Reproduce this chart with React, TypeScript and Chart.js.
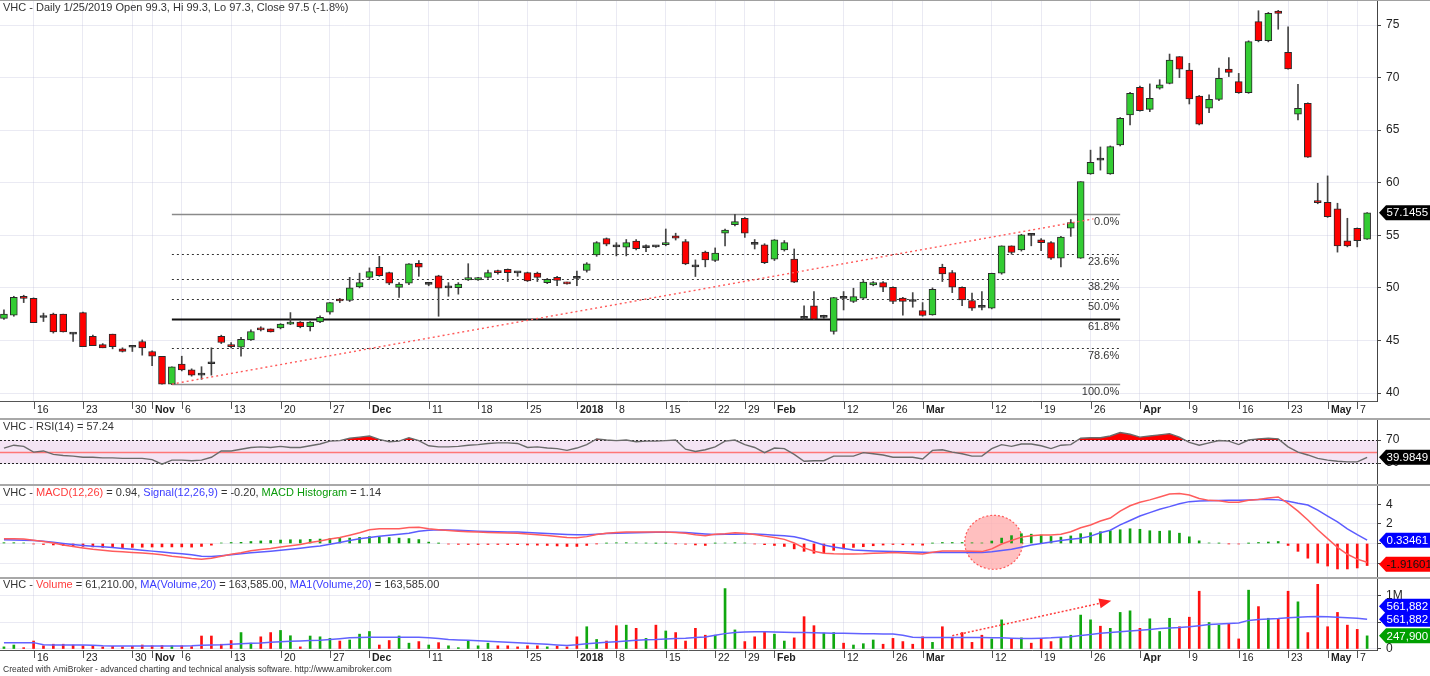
import React, { useEffect, useRef } from 'react';
import { Chart, registerables } from 'chart.js';

Chart.register(...registerables);

const FONT = '"Liberation Sans", Arial, Helvetica, sans-serif';
const W = 1430;
const AXIS_W = 53;
const GRID = 'rgba(185,185,215,0.30)';
const TXT = '#333333';
const UP = '#33cc33';
const DOWN = '#ff0000';

/* ---------------- data (trading-day index 0 = 11 Oct 2017 ... 138 = 8 May 2018) ---------------- */
const tickIndex = [3, 8, 13, 15, 18, 23, 28, 33, 37, 43, 48, 53, 58, 62, 67, 72, 75, 78, 85, 90, 93, 100, 105, 110, 115, 120, 125, 130, 134, 137];
const tickLabels = ['16', '23', '30', 'Nov', '6', '13', '20', '27', 'Dec', '11', '18', '25', '2018', '8', '15', '22', '29', 'Feb', '12', '26', 'Mar', '12', '19', '26', 'Apr', '9', '16', '23', 'May', '7'];

const openP = [47.1, 47.4, 49.2, 49.0, 47.22, 47.5, 47.5, 45.65, 47.65, 45.4,
  44.6, 45.6, 44.2, 44.4, 44.9, 43.95, 43.5, 40.85, 42.75, 42.2,
  41.75, 42.82, 45.4, 44.6, 44.35, 45.05, 46.2, 46.1, 46.2, 46.55,
  46.75, 46.3, 46.75, 47.7, 48.85, 48.8, 50.1, 51.0, 51.96, 51.45,
  50.05, 50.45, 52.34, 50.33, 51.14, 50.0, 50.03, 50.76, 50.76, 51.0,
  51.6, 51.77, 51.47, 51.45, 51.4, 50.5, 51.0, 50.5, 50.95, 51.65,
  53.13, 54.7, 53.95, 53.86, 54.45, 53.83, 53.95, 54.1, 54.94, 54.4,
  52.05, 53.4, 52.6, 55.2, 56.0, 56.62, 54.17, 54.1, 52.73, 53.6,
  52.73, 47.15, 48.29, 47.2, 45.85, 49.05, 48.7, 49.02, 50.29, 50.5,
  50.06, 49.02, 48.75, 47.85, 47.43, 51.96, 51.46, 50.06, 48.8, 48.2,
  48.07, 51.39, 53.99, 53.61, 55.04, 54.56, 54.31, 52.82, 55.67, 52.82,
  60.84, 62.2, 60.84, 63.59, 66.45, 69.07, 66.98, 69.0, 69.45, 71.99,
  70.72, 68.25, 67.08, 67.93, 70.82, 69.61, 68.57, 75.32, 73.51, 76.33,
  72.4, 66.51, 67.55, 58.27, 58.14, 57.51, 54.47, 55.67, 54.63];
const highP = [47.9, 49.2, 49.3, 49.05, 47.6, 47.6, 47.5, 45.7, 47.7, 45.5,
  44.7, 45.6, 44.3, 44.5, 45.05, 44.0, 43.5, 42.5, 43.5, 42.3,
  42.5, 44.3, 45.5, 44.8, 45.3, 46.0, 46.3, 46.1, 46.6, 47.65,
  46.8, 46.8, 47.35, 48.6, 49.0, 51.0, 51.4, 51.9, 53.0, 51.5,
  50.5, 52.3, 52.6, 50.5, 51.2, 50.5, 50.5, 52.3, 51.0, 51.7,
  51.7, 51.8, 51.5, 51.5, 51.5, 50.9, 51.1, 50.55, 51.6, 52.4,
  54.4, 54.75, 54.3, 54.6, 54.6, 54.1, 54.0, 55.6, 55.2, 54.6,
  52.66, 53.5, 53.8, 55.6, 57.0, 56.7, 54.6, 54.2, 54.6, 54.5,
  53.7, 48.3, 49.65, 47.4, 49.1, 49.65, 49.97, 50.7, 50.6, 50.6,
  50.1, 49.1, 49.55, 48.6, 50.0, 52.25, 51.65, 50.1, 49.5, 49.65,
  51.4, 54.0, 54.0, 55.1, 55.1, 54.7, 54.4, 54.9, 56.5, 60.1,
  63.1, 63.4, 63.5, 66.2, 68.6, 69.2, 69.4, 69.8, 72.24, 72.0,
  71.36, 68.3, 68.35, 70.9, 71.9, 70.4, 73.5, 76.36, 76.2, 76.4,
  74.84, 69.36, 67.6, 59.95, 60.65, 58.05, 56.62, 55.7, 57.15];
const lowP = [47.0, 47.3, 48.6, 46.7, 46.8, 45.7, 45.8, 44.9, 44.4, 44.5,
  44.3, 44.2, 43.9, 43.95, 43.6, 42.6, 40.85, 40.8, 42.1, 41.6,
  41.3, 41.7, 44.7, 44.3, 43.5, 45.0, 45.9, 45.8, 46.1, 46.5,
  46.2, 45.9, 46.7, 47.5, 48.6, 48.7, 50.0, 50.8, 51.1, 50.3,
  49.1, 50.3, 51.1, 50.2, 47.3, 49.2, 49.4, 50.7, 50.7, 50.9,
  51.3, 50.6, 51.1, 50.6, 50.6, 50.4, 50.2, 50.35, 50.2, 51.5,
  53.0, 54.0, 53.04, 53.04, 53.6, 53.45, 53.85, 54.0, 54.55, 52.2,
  51.08, 52.0, 52.5, 54.0, 55.9, 54.8, 53.7, 52.3, 52.6, 53.5,
  50.5, 47.0, 47.0, 47.1, 45.6, 47.9, 48.6, 48.9, 50.2, 49.65,
  48.5, 47.4, 48.16, 47.3, 47.4, 50.6, 49.55, 48.3, 47.85, 47.9,
  48.0, 51.3, 53.2, 53.5, 54.0, 53.55, 52.7, 52.0, 54.9, 52.8,
  60.8, 61.2, 60.8, 63.5, 65.5, 66.8, 66.76, 68.9, 69.4, 70.0,
  67.49, 65.5, 66.67, 67.8, 70.1, 68.5, 68.5, 73.4, 73.4, 74.6,
  70.8, 65.97, 62.4, 58.0, 56.7, 53.4, 53.9, 53.9, 54.6];
const closeP = [47.5, 49.1, 49.0, 46.7, 47.18, 45.8, 45.8, 45.6, 44.4, 44.5,
  44.3, 44.4, 43.95, 44.35, 44.3, 43.5, 40.85, 42.5, 42.2, 41.7,
  41.7, 42.78, 44.8, 44.4, 45.1, 45.85, 46.0, 45.8, 46.55, 46.75,
  46.3, 46.75, 47.2, 48.6, 48.75, 50.0, 50.5, 51.55, 51.17, 50.45,
  50.35, 52.28, 51.96, 50.37, 49.97, 50.05, 50.35, 50.98, 50.98, 51.45,
  51.45, 51.45, 51.43, 50.66, 51.0, 50.82, 50.7, 50.38, 50.9, 52.28,
  54.3, 54.15, 53.9, 54.3, 53.72, 53.87, 53.9, 54.3, 54.72, 52.28,
  52.0, 52.66, 53.3, 55.5, 56.3, 55.2, 54.13, 52.4, 54.56, 54.3,
  50.54, 47.1, 47.02, 47.3, 49.08, 49.0, 49.17, 50.54, 50.5, 50.06,
  48.7, 48.7, 48.7, 47.37, 49.87, 51.33, 50.06, 48.86, 48.07, 48.15,
  51.39, 53.99, 53.36, 55.04, 55.0, 54.31, 52.82, 54.82, 56.21, 60.1,
  61.94, 62.15, 63.43, 66.13, 68.5, 66.86, 68.03, 69.3, 71.67, 70.79,
  67.97, 65.56, 67.93, 69.93, 70.5, 68.57, 73.42, 73.51, 76.11, 76.11,
  70.82, 67.08, 62.42, 58.11, 56.78, 54.0, 54.0, 54.5, 57.1455];

const volume = [40000, 75000, 25000, 150000, 60000, 90000, 90000, 75000, 60000, 50000,
  40000, 50000, 40000, 50000, 75000, 60000, 65000, 60000, 60000, 45000,
  245000, 245000, 90000, 160000, 310000, 110000, 230000, 310000, 350000, 250000,
  40000, 245000, 230000, 200000, 150000, 170000, 280000, 330000, 75000, 160000,
  245000, 110000, 140000, 75000, 120000, 60000, 25000, 160000, 60000, 110000,
  60000, 60000, 40000, 60000, 60000, 40000, 55000, 40000, 230000, 420000,
  180000, 150000, 440000, 450000, 390000, 200000, 450000, 340000, 310000, 150000,
  390000, 260000, 260000, 1140000, 360000, 140000, 230000, 330000, 280000, 150000,
  210000, 610000, 440000, 300000, 310000, 110000, 75000, 100000, 170000, 90000,
  200000, 140000, 90000, 230000, 125000, 420000, 200000, 310000, 125000, 260000,
  190000, 550000, 200000, 210000, 110000, 200000, 140000, 200000, 260000, 640000,
  550000, 430000, 390000, 690000, 720000, 390000, 570000, 330000, 580000, 420000,
  600000, 1090000, 500000, 450000, 470000, 190000, 1110000, 800000, 580000, 570000,
  1090000, 890000, 310000, 1220000, 420000, 690000, 450000, 370000, 247900];
const volMA = [120000, 120000, 120000, 120000, 80000, 75000, 75000, 75000, 75000, 70000,
  60000, 58000, 57000, 57000, 57000, 57000, 57000, 57000, 58000, 60000,
  70000, 75000, 80000, 90000, 100000, 107000, 115000, 128000, 138000, 145000,
  152000, 160000, 164000, 180000, 195000, 210000, 218000, 220000, 220000, 220000,
  220000, 220000, 220000, 210000, 200000, 180000, 172000, 163000, 155000, 147000,
  138000, 128000, 118000, 108000, 100000, 88000, 75000, 65000, 80000, 100000,
  115000, 128000, 138000, 150000, 165000, 175000, 180000, 190000, 200000, 205000,
  215000, 225000, 260000, 290000, 310000, 320000, 327000, 325000, 320000, 315000,
  312000, 310000, 305000, 300000, 298000, 296000, 293000, 290000, 287000, 285000,
  283000, 260000, 220000, 218000, 216000, 215000, 215000, 215000, 215000, 215000,
  214000, 210000, 205000, 200000, 200000, 205000, 210000, 220000, 233000, 255000,
  275000, 296000, 310000, 325000, 340000, 355000, 370000, 385000, 395000, 405000,
  420000, 440000, 460000, 470000, 480000, 490000, 540000, 555000, 565000, 575000,
  590000, 600000, 610000, 615000, 610000, 600000, 590000, 580000, 561882];

const rsi = [56, 61, 59, 49, 51, 45, 43, 42, 40, 40,
  39, 39, 38, 38, 38, 36, 28, 35, 35, 34,
  35, 40, 51, 51, 54, 57, 58, 57, 59, 57,
  57, 60, 63, 68, 69, 73, 75, 77, 71, 67,
  68, 74, 69, 60, 58, 58, 59, 61, 62, 64,
  65, 65, 64, 57, 58, 56, 55, 52, 56, 62,
  72, 70, 69, 70, 67, 68, 68, 69, 70, 54,
  50, 53, 58, 68, 70, 62, 57, 48, 56, 55,
  45, 33, 34, 34, 42, 42, 42, 48, 46, 44,
  40, 40, 40, 37, 52, 53, 49, 46, 42, 42,
  55, 62, 59, 63, 63, 60, 55, 61, 62, 73,
  74, 74, 77, 83, 80, 75, 77, 79, 81, 75,
  66, 61, 65, 69, 68, 62, 70, 72, 73, 72,
  58, 49, 44, 38, 35, 33, 32, 32, 39.9849];

const macd = [0.48, 0.48, 0.45, 0.33, 0.2, 0.05, -0.15, -0.3, -0.45, -0.6,
  -0.7, -0.78, -0.85, -0.92, -0.98, -1.05, -1.15, -1.3, -1.4, -1.52,
  -1.6, -1.5, -1.3, -1.1, -0.95, -0.75, -0.62, -0.5, -0.35, -0.22,
  -0.1, 0.1, 0.25, 0.45, 0.62, 0.85, 1.1, 1.4, 1.5, 1.5,
  1.5, 1.62, 1.65, 1.5, 1.4, 1.32, 1.25, 1.2, 1.16, 1.13,
  1.1, 1.07, 1.04, 0.97, 0.9, 0.82, 0.72, 0.62, 0.58, 0.7,
  0.92, 1.05, 1.12, 1.16, 1.16, 1.16, 1.16, 1.16, 1.12, 1.05,
  0.9, 0.78, 0.95, 1.0, 1.1, 1.05, 0.92, 0.75, 0.6, 0.42,
  0.05, -0.45, -0.8, -1.0, -1.05, -1.07, -1.07, -1.05, -1.0, -0.96,
  -0.93, -0.98, -1.03, -1.07, -0.9, -0.77, -0.77, -0.77, -0.8, -0.83,
  -0.55, -0.05, 0.3, 0.65, 0.8, 0.87, 0.87, 0.95, 1.2, 1.6,
  1.89, 2.3, 2.6, 3.3, 3.85, 4.2, 4.45, 4.75, 5.05, 5.1,
  4.95, 4.6, 4.4, 4.35, 4.2, 4.2, 4.4, 4.5, 4.65, 4.75,
  4.1, 3.3, 2.4, 1.4, 0.5, -0.4, -1.1, -1.6, -1.91601];
const signal = [0.38, 0.36, 0.33, 0.3, 0.22, 0.12, 0.0, -0.1, -0.2, -0.28,
  -0.33, -0.42, -0.52, -0.6, -0.68, -0.78, -0.87, -0.96, -1.05, -1.15,
  -1.3, -1.33, -1.25, -1.15, -1.05, -0.95, -0.88, -0.8, -0.7, -0.6,
  -0.48, -0.35, -0.25, -0.08, 0.1, 0.3, 0.48, 0.62, 0.75, 0.85,
  0.95, 1.05, 1.25, 1.36, 1.39, 1.38, 1.34, 1.3, 1.26, 1.23,
  1.2, 1.18, 1.16, 1.12, 1.07, 1.02, 0.97, 0.92, 0.88, 0.9,
  0.95, 1.02, 1.05, 1.08, 1.1, 1.12, 1.14, 1.15, 1.15, 1.12,
  1.05, 0.98, 0.92, 0.93, 0.95, 0.97, 0.97, 0.92, 0.85, 0.78,
  0.68, 0.45, 0.15, -0.15, -0.35, -0.52, -0.66, -0.72, -0.77, -0.8,
  -0.83, -0.85, -0.88, -0.9, -0.93, -0.93, -0.93, -0.93, -0.93, -0.93,
  -0.85, -0.72, -0.59, -0.38, -0.15, 0.0, 0.15, 0.3, 0.43, 0.53,
  0.75, 1.1, 1.35, 1.9, 2.35, 2.8, 3.15, 3.5, 3.76, 4.05,
  4.27, 4.33, 4.37, 4.38, 4.4, 4.42, 4.45, 4.5, 4.5, 4.45,
  4.3, 4.1, 3.93, 3.4, 2.8, 2.2, 1.5, 0.9, 0.33461];
const hist = [0.08, 0.08, 0.05, -0.05, -0.1, -0.15, -0.2, -0.25, -0.3, -0.35,
  -0.4, -0.42, -0.42, -0.4, -0.38, -0.36, -0.35, -0.35, -0.35, -0.37,
  -0.3, -0.17, 0.05, 0.1, 0.12, 0.2, 0.26, 0.3, 0.35, 0.38,
  0.38, 0.42, 0.45, 0.5, 0.52, 0.55, 0.62, 0.7, 0.68, 0.6,
  0.55, 0.5, 0.4, 0.14, 0.02, -0.06, -0.09, -0.1, -0.1, -0.1,
  -0.1, -0.11, -0.12, -0.15, -0.17, -0.2, -0.25, -0.3, -0.3, -0.2,
  -0.03, 0.03, 0.07, 0.08, 0.06, 0.04, 0.02, 0.02, -0.03, -0.07,
  -0.15, -0.2, 0.03, 0.05, 0.08, 0.05, -0.05, -0.12, -0.2, -0.3,
  -0.55, -0.8, -1.0, -0.95, -0.7, -0.55, -0.4, -0.33, -0.23, -0.16,
  -0.1, -0.13, -0.15, -0.17, 0.03, 0.1, 0.1, 0.1, 0.07, 0.05,
  0.25, 0.55, 0.8, 1.0, 0.95, 0.87, 0.72, 0.65, 0.77, 1.0,
  1.1, 1.2, 1.3, 1.4, 1.5, 1.45, 1.3, 1.25, 1.3, 1.05,
  0.68, 0.27, 0.05, 0.03, -0.03, -0.05, 0.02, 0.1, 0.15, 0.2,
  -0.2, -0.8, -1.5, -2.0, -2.3, -2.6, -2.6, -2.5, -2.25];

const priceTicks = [40, 45, 50, 55, 60, 65, 70, 75];
const rsiTicks = [30, 70];
const rsiLevels = { upper: 70, mid: 50, lower: 30 };
const macdTicks = [-2, 0, 2, 4];
const volTicks = [0, 500000, 1000000];
const fibLevels = [0, 23.6, 38.2, 50, 61.8, 78.6, 100];
const fibLow = { idx: 17, price: 40.85 };
const fibHigh = { idx: 74, price: 57.03 };
const fibEndIdx = 113;
const trendFrom = { idx: 17, price: 40.85 };
const trendTo = { idx: 110.3, price: 56.56 };
const volArrowFrom = { idx: 96, vol: 250000 };
const volArrowTo = { idx: 112.1, vol: 910000 };
const macdMark = { idx: 100.2, value: 0.12 };

const priceTitle: [string, string][] = [['VHC - Daily 1/25/2019 Open 99.3, Hi 99.3, Lo 97.3, Close 97.5 (-1.8%)', TXT]];
const rsiTitle: [string, string][] = [['VHC - RSI(14) = 57.24', TXT]];
const macdTitle: [string, string][] = [['VHC - ', TXT], ['MACD(12,26)', '#ff3c3c'], [' = 0.94, ', TXT], ['Signal(12,26,9)', '#3c3cff'], [' = -0.20, ', TXT], ['MACD Histogram', '#0a9a0a'], [' = 1.14', TXT]];
const volTitle: [string, string][] = [['VHC - ', TXT], ['Volume', '#ff3c3c'], [' = 61,210.00, ', TXT], ['MA(Volume,20)', '#3c3cff'], [' = 163,585.00, ', TXT], ['MA1(Volume,20)', '#3c3cff'], [' = 163,585.00', TXT]];
const footer = 'Created with AmiBroker - advanced charting and technical analysis software. http://www.amibroker.com';

/* ---------------- layout constants ---------------- */
const N = closeP.length;
const IDX = closeP.map((_, i) => i);
const X_MIN = -0.4;
const X_MAX = 139;

/* ---------------- helpers ---------------- */
function drawRich(ctx: any, segs: [string, string][], x: number, y: number, size = 11) {
  ctx.save();
  ctx.font = `${size}px ${FONT}`;
  ctx.textBaseline = 'middle';
  ctx.textAlign = 'left';
  let cx = x;
  for (const [t, c] of segs) {
    ctx.fillStyle = c;
    ctx.fillText(t, cx, y);
    cx += ctx.measureText(t).width;
  }
  ctx.restore();
}

function drawFlag(ctx: any, left: number, yc: number, text: string, bg: string, fg: string) {
  const h = 15;
  const tip = 7;
  ctx.save();
  ctx.beginPath();
  ctx.moveTo(left, yc);
  ctx.lineTo(left + tip, yc - h / 2);
  ctx.lineTo(W, yc - h / 2);
  ctx.lineTo(W, yc + h / 2);
  ctx.lineTo(left + tip, yc + h / 2);
  ctx.closePath();
  ctx.fillStyle = bg;
  ctx.fill();
  ctx.fillStyle = fg;
  ctx.font = `11.5px ${FONT}`;
  ctx.textAlign = 'left';
  ctx.textBaseline = 'middle';
  ctx.fillText(text, left + tip + 0.5, yc + 0.5);
  ctx.restore();
}

function drawSeparator(ctx: any) {
  ctx.save();
  ctx.fillStyle = '#a8a8a8';
  ctx.fillRect(0, 0, W, 2);
  ctx.restore();
}

function drawDates(chart: any, labelOffset: number) {
  const { ctx, chartArea: a, scales: { x } } = chart;
  const b = a.bottom;
  ctx.save();
  ctx.strokeStyle = '#555';
  ctx.lineWidth = 1;
  ctx.beginPath();
  ctx.moveTo(a.left, b + 0.5);
  ctx.lineTo(a.right, b + 0.5);
  ctx.stroke();
  ctx.fillStyle = '#222';
  ctx.textAlign = 'left';
  ctx.textBaseline = 'middle';
  tickIndex.forEach((v, i) => {
    const px = Math.round(x.getPixelForValue(v)) + 0.5;
    ctx.beginPath();
    ctx.moveTo(px, b + 1);
    ctx.lineTo(px, b + 8);
    ctx.stroke();
    const lab = tickLabels[i];
    const bold = !/^\d{1,2}$/.test(lab);
    ctx.font = `${bold ? 'bold ' : ''}10.5px ${FONT}`;
    ctx.fillText(lab, px + 2.5, b + labelOffset);
  });
  ctx.restore();
}

function xAxis(): any {
  return {
    type: 'linear',
    position: 'bottom',
    min: X_MIN,
    max: X_MAX,
    offset: false,
    afterBuildTicks: (s: any) => { s.ticks = tickIndex.map((v) => ({ value: v })); },
    ticks: { display: false },
    grid: { color: GRID, drawTicks: false, offset: false, lineWidth: 1 },
    border: { display: false },
    afterFit: (s: any) => { s.height = 0; s.paddingLeft = 0; s.paddingRight = 0; },
  };
}

function yAxis(min: number, max: number, ticks: number[], label: (v: number) => string): any {
  return {
    type: 'linear',
    position: 'right',
    min,
    max,
    afterBuildTicks: (s: any) => { s.ticks = ticks.map((v) => ({ value: v })); },
    grid: { color: GRID, tickColor: '#444', tickLength: 4, drawTicks: true },
    border: { display: true, color: '#444', width: 1 },
    ticks: {
      color: '#222',
      font: { family: FONT, size: 12 },
      padding: 5,
      callback: (v: any) => label(Number(v)),
    },
    afterFit: (s: any) => { s.width = AXIS_W; s.paddingTop = 0; s.paddingBottom = 0; },
  };
}

function common(bottomPad: number): any {
  return {
    responsive: false,
    animation: false,
    events: [],
    layout: { padding: { left: 0, right: 0, top: 0, bottom: bottomPad } },
    plugins: { legend: { display: false }, tooltip: { enabled: false }, title: { display: false } },
  };
}

/* ---------------- panel configs ---------------- */
function priceConfig(): any {
  const wick = IDX.map((i) => ({ x: i, y: [lowP[i], highP[i]] }));
  const body = IDX.map((i) => ({ x: i, y: [openP[i], closeP[i]] }));
  const bodyColor = IDX.map((i) => (Math.abs(closeP[i] - openP[i]) < 0.1 ? '#333' : closeP[i] > openP[i] ? UP : DOWN));
  const plugin = {
    id: 'pricePanel',
    beforeDatasetsDraw(chart: any) {
      const { ctx, scales: { x, y } } = chart;
      const x0 = x.getPixelForValue(fibLow.idx);
      const x1 = x.getPixelForValue(fibEndIdx);
      const span = fibHigh.price - fibLow.price;
      ctx.save();
      ctx.font = `11px ${FONT}`;
      ctx.textAlign = 'right';
      ctx.textBaseline = 'middle';
      fibLevels.forEach((lv) => {
        const py = Math.round(y.getPixelForValue(fibHigh.price - (span * lv) / 100)) + 0.5;
        const edge = lv === 0 || lv === 100;
        const key = lv === 61.8;
        ctx.setLineDash(edge || key ? [] : [2, 3]);
        ctx.strokeStyle = edge ? '#8a8a8a' : key ? '#111' : '#333';
        ctx.lineWidth = key ? 2 : edge ? 1.5 : 1.2;
        ctx.beginPath();
        ctx.moveTo(x0, py);
        ctx.lineTo(x1, py);
        ctx.stroke();
        ctx.fillStyle = '#333';
        ctx.fillText(lv.toFixed(1) + '%', x1 - 1, py + 7);
      });
      ctx.restore();
    },
    afterDraw(chart: any) {
      const { ctx, chartArea: a, scales: { y } } = chart;
      ctx.save();
      ctx.fillStyle = '#a0a0a0';
      ctx.fillRect(0, 0, W, 1);
      ctx.restore();
      drawDates(chart, 9);
      drawRich(ctx, priceTitle, 3, 8);
      const last = closeP[N - 1];
      drawFlag(ctx, a.right + 2, y.getPixelForValue(last), last.toFixed(4), '#000', '#fff');
    },
  };
  return {
    type: 'bar',
    data: {
      datasets: [
        {
          type: 'line',
          data: [{ x: trendFrom.idx, y: trendFrom.price }, { x: trendTo.idx, y: trendTo.price }],
          borderColor: '#ff5a5a',
          borderWidth: 1.4,
          borderDash: [2, 3],
          pointRadius: 0,
          order: 0,
        },
        {
          data: body,
          backgroundColor: bodyColor,
          borderColor: '#2a2a2a',
          borderWidth: 1,
          borderSkipped: false,
          barThickness: 7,
          minBarLength: 2,
          grouped: false,
          order: 1,
        },
        { data: wick, backgroundColor: '#444', barThickness: 1, grouped: false, order: 2 },
      ],
    },
    options: {
      ...common(17),
      scales: { x: xAxis(), y: yAxis(39.24, 77.38, priceTicks, (v) => String(v)) },
    },
    plugins: [plugin],
  };
}

function rsiConfig(): any {
  const pts = IDX.map((i) => ({ x: i, y: rsi[i] }));
  const plugin = {
    id: 'rsiPanel',
    beforeDatasetsDraw(chart: any) {
      const { ctx, chartArea: a, scales: { y } } = chart;
      const yU = y.getPixelForValue(rsiLevels.upper);
      const yL = y.getPixelForValue(rsiLevels.lower);
      const yM = Math.round(y.getPixelForValue(rsiLevels.mid)) + 0.5;
      ctx.save();
      ctx.fillStyle = '#f4e4f4';
      ctx.fillRect(a.left, yU, a.right - a.left, yL - yU);
      ctx.strokeStyle = '#ff7676';
      ctx.lineWidth = 1.5;
      ctx.beginPath();
      ctx.moveTo(a.left, yM);
      ctx.lineTo(a.right, yM);
      ctx.stroke();
      ctx.strokeStyle = '#222';
      ctx.lineWidth = 1;
      ctx.setLineDash([2, 2]);
      [yU, yL].forEach((yy) => {
        const p = Math.round(yy) + 0.5;
        ctx.beginPath();
        ctx.moveTo(a.left, p);
        ctx.lineTo(a.right, p);
        ctx.stroke();
      });
      ctx.restore();
    },
    afterDraw(chart: any) {
      const { ctx, chartArea: a, scales: { y } } = chart;
      drawSeparator(ctx);
      drawRich(ctx, rsiTitle, 3, 9);
      const last = rsi[N - 1];
      drawFlag(ctx, a.right + 2, y.getPixelForValue(last), last.toFixed(4), '#000', '#fff');
    },
  };
  return {
    type: 'line',
    data: {
      datasets: [
        {
          data: pts,
          borderColor: '#6a6a6a',
          borderWidth: 1.4,
          pointRadius: 0,
          tension: 0,
          fill: { target: { value: rsiLevels.upper }, above: '#ff0000', below: 'rgba(0,0,0,0)' },
        },
        {
          data: pts,
          borderColor: 'rgba(0,0,0,0)',
          borderWidth: 1,
          pointRadius: 0,
          tension: 0,
          fill: { target: { value: rsiLevels.lower }, above: 'rgba(0,0,0,0)', below: '#00a000' },
        },
      ],
    },
    options: {
      ...common(0),
      scales: { x: xAxis(), y: yAxis(-6.5, 108.26, rsiTicks, (v) => String(v)) },
    },
    plugins: [plugin],
  };
}

function macdConfig(): any {
  const plugin = {
    id: 'macdPanel',
    beforeDatasetsDraw(chart: any) {
      const { ctx, scales: { x, y } } = chart;
      const cx = x.getPixelForValue(macdMark.idx);
      const cy = y.getPixelForValue(macdMark.value);
      ctx.save();
      ctx.beginPath();
      ctx.ellipse(cx, cy, 29, 27, 0, 0, Math.PI * 2);
      ctx.fillStyle = 'rgba(255,175,175,0.8)';
      ctx.fill();
      ctx.setLineDash([2, 2]);
      ctx.strokeStyle = '#ff5a5a';
      ctx.lineWidth = 1.2;
      ctx.stroke();
      ctx.restore();
    },
    afterDraw(chart: any) {
      const { ctx, chartArea: a, scales: { y } } = chart;
      drawSeparator(ctx);
      drawRich(ctx, macdTitle, 3, 9);
      const s = signal[N - 1];
      const m = macd[N - 1];
      drawFlag(ctx, a.right + 2, y.getPixelForValue(s), s.toFixed(5), '#0000ff', '#fff');
      drawFlag(ctx, a.right + 2, y.getPixelForValue(m) + 2, m.toFixed(5), '#ff0000', '#111');
    },
  };
  return {
    type: 'bar',
    data: {
      datasets: [
        { type: 'line', data: IDX.map((i) => ({ x: i, y: macd[i] })), borderColor: '#ff5c5c', borderWidth: 1.5, pointRadius: 0, tension: 0, order: 0 },
        { type: 'line', data: IDX.map((i) => ({ x: i, y: signal[i] })), borderColor: '#5c5cff', borderWidth: 1.5, pointRadius: 0, tension: 0, order: 0 },
        {
          data: IDX.map((i) => ({ x: i, y: hist[i] })),
          backgroundColor: IDX.map((i) => (hist[i] >= 0 ? '#12a012' : '#ff1010')),
          barThickness: 2,
          grouped: false,
          order: 1,
        },
      ],
    },
    options: {
      ...common(0),
      scales: { x: xAxis(), y: yAxis(-3.42, 6.07, macdTicks, (v) => String(v)) },
    },
    plugins: [plugin],
  };
}

function volConfig(): any {
  const plugin = {
    id: 'volPanel',
    afterDatasetsDraw(chart: any) {
      const { ctx, scales: { x, y } } = chart;
      const x0 = x.getPixelForValue(volArrowFrom.idx);
      const y0 = y.getPixelForValue(volArrowFrom.vol);
      const x1 = x.getPixelForValue(volArrowTo.idx);
      const y1 = y.getPixelForValue(volArrowTo.vol);
      const ang = Math.atan2(y1 - y0, x1 - x0);
      const hl = 12;
      const hw = 5;
      const bx = x1 - hl * Math.cos(ang);
      const by = y1 - hl * Math.sin(ang);
      ctx.save();
      ctx.strokeStyle = '#ff3c3c';
      ctx.lineWidth = 1.5;
      ctx.setLineDash([2, 2]);
      ctx.beginPath();
      ctx.moveTo(x0, y0);
      ctx.lineTo(bx, by);
      ctx.stroke();
      ctx.setLineDash([]);
      ctx.fillStyle = '#ff2020';
      ctx.beginPath();
      ctx.moveTo(x1, y1);
      ctx.lineTo(bx + hw * Math.sin(ang), by - hw * Math.cos(ang));
      ctx.lineTo(bx - hw * Math.sin(ang), by + hw * Math.cos(ang));
      ctx.closePath();
      ctx.fill();
      ctx.restore();
    },
    afterDraw(chart: any) {
      const { ctx, chartArea: a, scales: { y } } = chart;
      drawSeparator(ctx);
      drawDates(chart, 8);
      drawRich(ctx, volTitle, 3, 8);
      drawRich(ctx, [[footer, TXT]], 3, 93, 8.5);
      const ma = volMA[N - 1];
      const v = volume[N - 1];
      const yMa = y.getPixelForValue(ma);
      drawFlag(ctx, a.right + 2, yMa - 13, ma.toLocaleString('en-US'), '#0000ff', '#fff');
      drawFlag(ctx, a.right + 2, yMa, ma.toLocaleString('en-US'), '#0000ff', '#fff');
      drawFlag(ctx, a.right + 2, y.getPixelForValue(v), v.toLocaleString('en-US'), '#00a000', '#fff');
    },
  };
  return {
    type: 'bar',
    data: {
      datasets: [
        { type: 'line', data: IDX.map((i) => ({ x: i, y: volMA[i] })), borderColor: '#6262ff', borderWidth: 1.5, pointRadius: 0, tension: 0, order: 0 },
        {
          data: IDX.map((i) => ({ x: i, y: volume[i] })),
          backgroundColor: IDX.map((i) => (closeP[i] > openP[i] ? '#10a810' : '#ff1010')),
          barThickness: 2,
          grouped: false,
          order: 1,
        },
      ],
    },
    options: {
      ...common(26),
      scales: {
        x: xAxis(),
        y: yAxis(-0.0189e6, 1.3585e6, volTicks, (v) => (v === 1000000 ? '1M' : v === 0 ? '0' : '')),
      },
    },
    plugins: [plugin],
  };
}

/* ---------------- component ---------------- */
export default function App() {
  const priceRef = useRef<HTMLCanvasElement>(null);
  const rsiRef = useRef<HTMLCanvasElement>(null);
  const macdRef = useRef<HTMLCanvasElement>(null);
  const volRef = useRef<HTMLCanvasElement>(null);

  useEffect(() => {
    document.body.style.margin = '0';
    Chart.defaults.font.family = FONT;
    const charts = [
      new Chart(priceRef.current as HTMLCanvasElement, priceConfig()),
      new Chart(rsiRef.current as HTMLCanvasElement, rsiConfig()),
      new Chart(macdRef.current as HTMLCanvasElement, macdConfig()),
      new Chart(volRef.current as HTMLCanvasElement, volConfig()),
    ];
    return () => charts.forEach((c) => c.destroy());
  }, []);

  const cs = (top: number, h: number): React.CSSProperties => ({ position: 'absolute', left: 0, top, width: W, height: h, display: 'block' });

  return (
    <div style={{ position: 'fixed', left: 0, top: 0, width: W, height: 676, background: '#fff', overflow: 'hidden' }}>
      <canvas ref={priceRef} width={W} height={418} style={cs(0, 418)} />
      <canvas ref={rsiRef} width={W} height={66} style={cs(418, 66)} />
      <canvas ref={macdRef} width={W} height={93} style={cs(484, 93)} />
      <canvas ref={volRef} width={W} height={99} style={cs(577, 99)} />
    </div>
  );
}
